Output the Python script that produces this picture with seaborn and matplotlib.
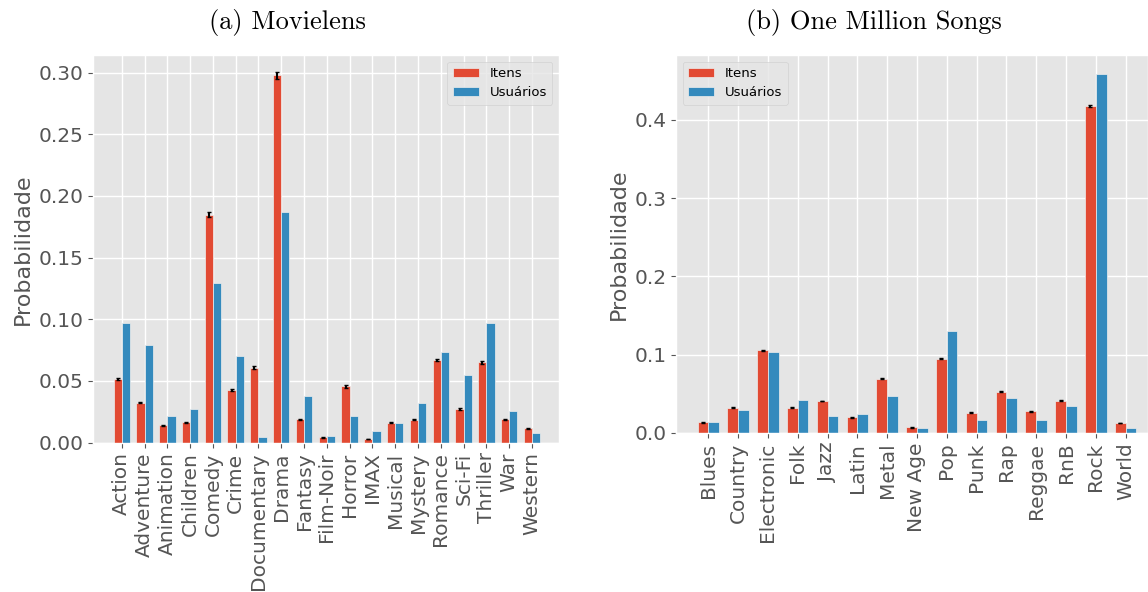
import numpy as np
import pandas as pd
import matplotlib
matplotlib.use('Agg')
import matplotlib.pyplot as plt
import seaborn as sns

# Movielens genres
movie_genres = ['Action', 'Adventure', 'Animation', 'Children', 'Comedy', 'Crime',
                'Documentary', 'Drama', 'Fantasy', 'Film-Noir', 'Horror', 'IMAX',
                'Musical', 'Mystery', 'Romance', 'Sci-Fi', 'Thriller', 'War', 'Western']
movie_itens = [0.0514, 0.0325, 0.0141, 0.0165, 0.1849, 0.0428, 0.0606, 0.2978, 0.0190,
               0.0043, 0.0457, 0.0030, 0.0160, 0.0184, 0.0671, 0.0274, 0.0650, 0.0190, 0.0119]
movie_itens_err = [0.0008, 0.0006, 0.0004, 0.0004, 0.0020, 0.0006, 0.0012, 0.0027, 0.0005,
                   0.0003, 0.0010, 0.0003, 0.0004, 0.0004, 0.0009, 0.0005, 0.0009, 0.0004, 0.0004]
movie_usuarios = [0.0972, 0.0793, 0.0217, 0.0276, 0.1291, 0.0704, 0.0046, 0.1871, 0.0376,
                  0.0051, 0.0214, 0.0095, 0.0157, 0.0322, 0.0736, 0.0548, 0.0970, 0.0254, 0.0079]

# One Million Songs genres
song_genres = ['Blues', 'Country', 'Electronic', 'Folk', 'Jazz', 'Latin', 'Metal', 'New Age',
               'Pop', 'Punk', 'Rap', 'Reggae', 'RnB', 'Rock', 'World']
song_itens = [0.0136, 0.0322, 0.1060, 0.0322, 0.0407, 0.0199, 0.0692, 0.0072,
              0.0950, 0.0259, 0.0530, 0.0276, 0.0412, 0.4180, 0.0127]
song_itens_err = [0.0003, 0.0004, 0.0006, 0.0004, 0.0004, 0.0003, 0.0005, 0.0002,
                  0.0006, 0.0003, 0.0005, 0.0003, 0.0004, 0.0008, 0.0003]
song_usuarios = [0.0136, 0.0293, 0.1030, 0.0424, 0.0216, 0.0242, 0.0467, 0.0068,
                 0.1307, 0.0165, 0.0450, 0.0161, 0.0344, 0.4586, 0.0068]

plt.style.use('ggplot')
palette = {'Itens': '#E24A33', 'Usuários': '#348ABD'}


def make_df(genres, itens, usuarios):
    return pd.DataFrame({
        'genero': genres * 2,
        'prob': itens + usuarios,
        'fonte': ['Itens'] * len(genres) + ['Usuários'] * len(genres),
    })


def draw(ax, genres, itens, itens_err, usuarios, xlim, legend_loc):
    df = make_df(genres, itens, usuarios)
    sns.barplot(data=df, x='genero', y='prob', hue='fonte', palette=palette,
                width=0.72, saturation=1, errorbar=None, edgecolor='#EEEEEE',
                linewidth=0.5, ax=ax)
    # error bars on the "Itens" bars
    bars = ax.containers[0]
    xs = [b.get_x() + b.get_width() / 2 for b in bars]
    ax.errorbar(xs, itens, yerr=itens_err, fmt='none', ecolor='black',
                elinewidth=1.5, capsize=1.2, capthick=1, zorder=5)
    ax.set_xlim(*xlim)
    ax.set_ylim(0, max(max(itens), max(usuarios)) * 1.05 + 0.0015)
    ax.set_xlabel('')
    ax.set_ylabel('Probabilidade', fontsize=16, color='#555555')
    ax.tick_params(axis='x', labelrotation=90, labelsize=14.5, colors='#555555')
    ax.tick_params(axis='y', labelsize=14.5, colors='#555555')
    ax.grid(True, color='white', linewidth=1)
    ax.set_axisbelow(True)
    ax.legend(loc=legend_loc, fontsize=9.5, title=None)


fig = plt.figure(figsize=(11.48, 5.92), dpi=100)
ax1 = fig.add_axes([0.0810, 0.2522, 0.4059, 0.6549])
ax2 = fig.add_axes([0.5889, 0.2686, 0.4111, 0.6385])

draw(ax1, movie_genres, movie_itens, movie_itens_err, movie_usuarios, (-1.26, 19.18), 'upper right')
ax1.set_yticks([0.0, 0.05, 0.10, 0.15, 0.20, 0.25, 0.30])
ax1.set_yticklabels(['0.00', '0.05', '0.10', '0.15', '0.20', '0.25', '0.30'])

draw(ax2, song_genres, song_itens, song_itens_err, song_usuarios, (-1.08, 14.75), 'upper left')
ax2.set_yticks([0.0, 0.1, 0.2, 0.3, 0.4])
ax2.set_yticklabels(['0.0', '0.1', '0.2', '0.3', '0.4'])

fig.text(0.25, 0.962, '(a) Movielens', family='cmr10', fontsize=19, ha='center', va='center')
fig.text(0.761, 0.962, '(b) One Million Songs', family='cmr10', fontsize=19, ha='center', va='center')

fig.savefig('out.png', dpi=100)
